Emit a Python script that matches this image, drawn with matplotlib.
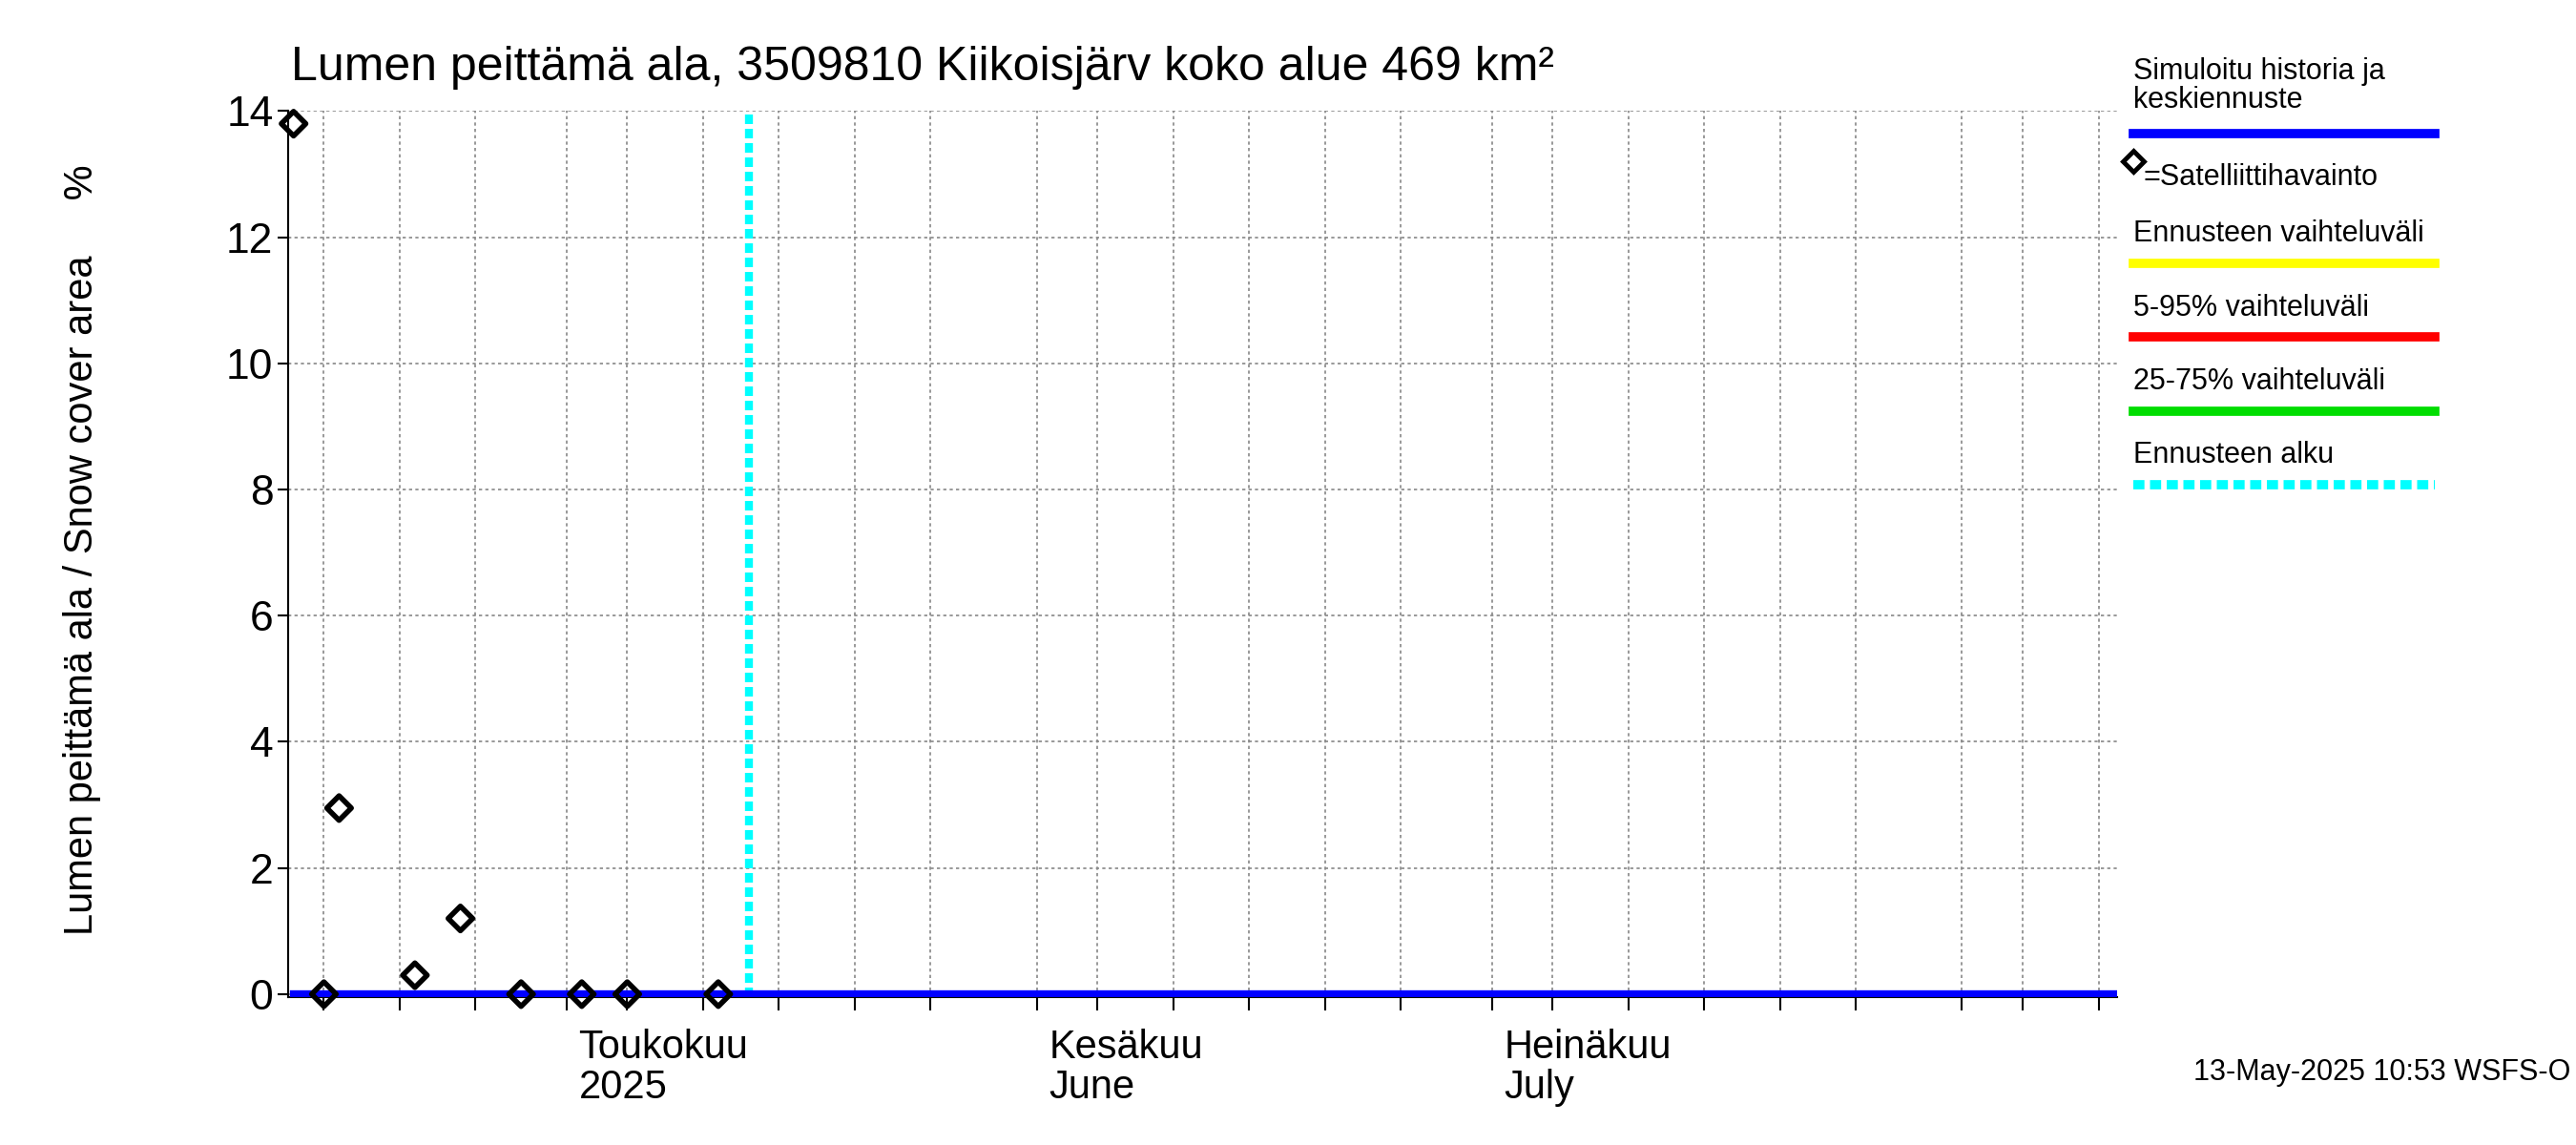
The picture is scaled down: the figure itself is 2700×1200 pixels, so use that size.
import datetime as dt
import matplotlib
matplotlib.use('Agg')
import matplotlib.pyplot as plt

plt.rcParams['font.family'] = 'Liberation Sans'

# satellite observations (date, % snow cover)
OBS_DATES = ['2025-04-13', '2025-04-15', '2025-04-16', '2025-04-21', '2025-04-24',
             '2025-04-28', '2025-05-02', '2025-05-05', '2025-05-11']
OBS_VALUES = [13.8, 0.0, 2.95, 0.3, 1.2, 0.0, 0.0, 0.0, 0.0]
SIM_DATES = ['2025-04-13', '2025-08-11']
SIM_VALUES = [0.0, 0.0]
FORECAST_START = '2025-05-13'
YTICKS = [0, 2, 4, 6, 8, 10, 12, 14]

d = lambda s: dt.datetime.strptime(s, '%Y-%m-%d')

fig = plt.figure(figsize=(27, 12), dpi=100)
ax = fig.add_axes([0.112, 0.129, 0.710, 0.774])

ax.plot([d(s) for s in SIM_DATES], SIM_VALUES, color='#0000ff', lw=6, zorder=3)
ax.axvline(d(FORECAST_START), color='cyan', lw=6, ls=(0, (1.2, 0.6)), zorder=2)
ax.scatter([d(s) for s in OBS_DATES], OBS_VALUES, marker='D', s=170, facecolors='none',
           edgecolors='black', linewidths=4, zorder=4, clip_on=False)

ax.set_xlim(dt.datetime(2025, 4, 12, 16), dt.datetime(2025, 8, 11, 6))
ax.set_ylim(-0.05, 14)
ax.set_yticks(YTICKS)
ax.tick_params(axis='y', labelsize=32, length=8, width=1.5)

days = []
cur = dt.datetime(2025, 4, 13)
while cur < dt.datetime(2025, 8, 12):
    if cur.day in (1, 5, 10, 15, 20, 25):
        days.append(cur)
    cur += dt.timedelta(days=1)
ax.set_xticks(days)
ax.set_xticklabels([])
ax.tick_params(axis='x', length=10, width=1.5)
months = [dt.datetime(2025, 5, 1), dt.datetime(2025, 6, 1), dt.datetime(2025, 7, 1), dt.datetime(2025, 8, 1)]
ax.set_xticks(months, minor=True)
ax.tick_params(axis='x', which='minor', length=45, width=1.5)
labels = {5: 'Toukokuu\n2025', 6: 'Kesäkuu\nJune', 7: 'Heinäkuu\nJuly'}
for m in months:
    if m.month in labels:
        ax.text(m + dt.timedelta(days=0.8), -0.55, labels[m.month], fontsize=30,
                va='top', ha='left', linespacing=1.05)

ax.grid(True, color='#888888', ls=(0, (2, 2)), lw=1.2)
for s in ['top', 'right']:
    ax.spines[s].set_visible(False)
for s in ['left', 'bottom']:
    ax.spines[s].set_linewidth(1.5)

fig.text(0.113, 0.922, 'Lumen peittämä ala, 3509810 Kiikoisjärv koko alue 469 km²',
         fontsize=36, ha='left', va='bottom')
fig.text(0.032, 0.52, 'Lumen peittämä ala / Snow cover area     %', fontsize=30,
         rotation=90, ha='center', va='center')

# legend drawn in figure coords
lx0, lx1 = 0.828, 0.945
def leg_line(y, color, ls='-'):
    fig.add_artist(plt.Line2D([lx0, lx1], [y, y], color=color, lw=7, ls=ls, transform=fig.transFigure))
fig.text(lx0, 0.9, 'Simuloitu historia ja\nkeskiennuste', fontsize=22, va='bottom', linespacing=1.0)
leg_line(0.883, '#0000ff')
fig.add_artist(plt.Line2D([lx0], [0.859], marker='D', ms=11, mfc='none', mec='black', mew=3.5,
                          transform=fig.transFigure))
fig.text(lx0 + 0.004, 0.845, '=Satelliittihavainto', fontsize=22, va='center')
fig.text(lx0, 0.783, 'Ennusteen vaihteluväli', fontsize=22, va='bottom')
leg_line(0.77, '#ffff00')
fig.text(lx0, 0.718, '5-95% vaihteluväli', fontsize=22, va='bottom')
leg_line(0.706, '#ff0000')
fig.text(lx0, 0.654, '25-75% vaihteluväli', fontsize=22, va='bottom')
leg_line(0.641, '#00dd00')
fig.text(lx0, 0.59, 'Ennusteen alku', fontsize=22, va='bottom')
leg_line(0.577, 'cyan', ls=(0, (1.2, 0.6)))

fig.text(0.998, 0.063, '13-May-2025 10:53 WSFS-O', fontsize=22, ha='right', va='center')

fig.savefig('out.png', dpi=100)
